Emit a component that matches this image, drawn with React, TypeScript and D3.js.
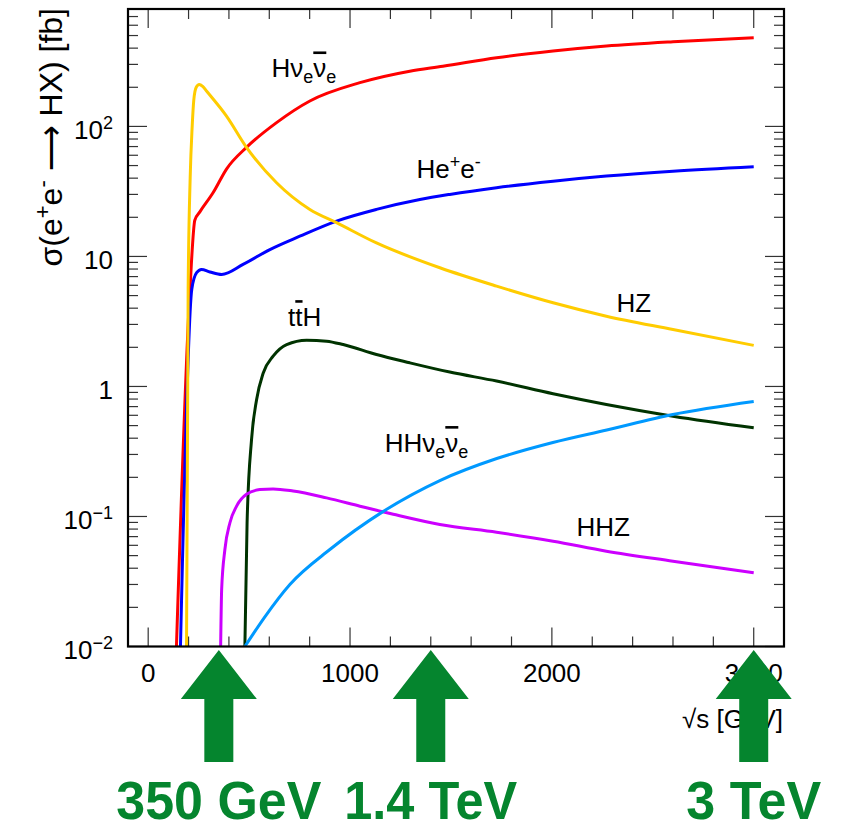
import React from 'react';
import * as d3 from 'd3';

// Higgs production cross-sections at an e+e- collider, [√s (GeV), σ (fb)]
const hNuNu: [number, number][] = [[140, 0.01], [207, 5.6], [231, 19], [256, 22], [322, 31], [388, 47], [487, 69], [636, 107], [801, 157], [1049, 217], [1296, 266], [1460, 290], [1726, 338], [2006, 380], [2270, 415], [2600, 448], [3000, 481]];
const hEE: [number, number][] = [[160, 0.01], [216, 5.6], [240, 7.5], [264, 7.94], [306, 7.6], [364, 7.27], [470, 8.68], [603, 11.3], [751, 14.3], [933, 18.7], [1131, 23.0], [1346, 27.4], [1494, 30.0], [1726, 33.8], [2006, 37.9], [2270, 41.5], [2600, 45.3], [3000, 49.0]];
const hZ: [number, number][] = [[190, 0.01], [198, 5.6], [208, 40], [218, 100], [226, 160], [238, 200], [253, 210], [270, 203], [289, 187], [388, 120], [487, 69], [636, 36.9], [801, 23.0], [933, 18.2], [1131, 12.7], [1445, 8.18], [1726, 5.91], [2006, 4.40], [2270, 3.47], [2600, 2.74], [3000, 2.07]];
const ttH: [number, number][] = [[479, 0.01], [490, 0.09], [512, 0.39], [537, 0.79], [570, 1.27], [619, 1.71], [686, 2.10], [785, 2.27], [884, 2.23], [966, 2.10], [1131, 1.76], [1296, 1.52], [1494, 1.29], [1726, 1.10], [2006, 0.879], [2270, 0.727], [2600, 0.591], [3000, 0.481]];
const hhZ: [number, number][] = [[359, 0.01], [364, 0.0275], [380, 0.0557], [405, 0.0895], [438, 0.12], [487, 0.148], [553, 0.161], [619, 0.163], [718, 0.157], [884, 0.139], [1049, 0.12], [1214, 0.104], [1445, 0.0868], [1726, 0.0757], [2006, 0.0646], [2270, 0.0541], [2600, 0.0453], [3000, 0.0369]];
const hhNuNu: [number, number][] = [[479, 0.01], [579, 0.017], [702, 0.030], [900, 0.0557], [1163, 0.109], [1445, 0.189], [1727, 0.279], [2005, 0.371], [2272, 0.463], [2599, 0.609], [3000, 0.767]];

const seriesData = [hNuNu, hEE, hZ, ttH, hhZ, hhNuNu];
const seriesColors = ['#ff0000', '#0000ff', '#ffcc00', '#003300', '#cc00ff', '#0099ff'];

// Curve label anchor points [√s, σ]
const labelAnchors: [number, number][] = [[611, 238], [1329, 40.2], [2320, 3.76], [693, 2.91], [2122, 0.0705], [1172, 0.313]];

// Collider energy stages (GeV) and their captions
const stageEnergies = [350, 1400, 3000];
const stageLabels = ['350 GeV', '1.4 TeV', '3 TeV'];
const stageLabelWidths = [205, 173, 135];

const xMajorTicks = [0, 1000, 2000, 3000];
const xMajorLabels = ['0', '1000', '2000', '3000'];
const yDecades = [0.01, 0.1, 1, 10, 100];

const W = 853;
const H = 833;
const M = { left: 128, right: 784, top: 9, bottom: 646.5 };
const FONT = "'Liberation Sans', Arial, Helvetica, sans-serif";
const GREEN = '#05852e';

export default function App() {
  const x = d3.scaleLinear().domain([-100, 3150]).range([M.left, M.right]);
  const y = d3.scaleLog().domain([0.01, 800]).range([M.bottom, M.top]);

  const line = d3
    .line<[number, number]>()
    .x((d) => x(d[0]))
    .y((d) => y(d[1]))
    .curve(d3.curveMonotoneX);

  const xMinor = d3.range(0, 3001, 200).filter((v) => v % 1000 !== 0);
  const yMinor: number[] = [];
  for (const dec of yDecades) {
    for (let k = 2; k <= 9; k++) {
      const v = dec * k;
      if (v <= 800) yMinor.push(v);
    }
  }

  const tickColor = '#333';
  const majorLen = 19;
  const minorLen = 10;

  const yLabel = (v: number) => {
    if (v === 1) return <tspan>1</tspan>;
    if (v === 10) return <tspan>10</tspan>;
    const e = Math.round(Math.log10(v));
    const sup = e < 0 ? `\u2212${-e}` : `${e}`;
    return (
      <>
        <tspan>10</tspan>
        <tspan dy={-10} fontSize={18}>{sup}</tspan>
      </>
    );
  };

  const sub = (t: string) => (
    <tspan dy={6} fontSize={18}>{t}</tspan>
  );

  const curveLabels = [
    <>
      H<tspan>ν</tspan>
      {sub('e')}
      <tspan dy={-6} style={{ textDecoration: 'overline' }}>ν</tspan>
      {sub('e')}
    </>,
    <>
      He<tspan dy={-10} fontSize={18}>+</tspan>
      <tspan dy={10}>e</tspan>
      <tspan dy={-10} fontSize={18}>-</tspan>
    </>,
    <>HZ</>,
    <>
      t<tspan style={{ textDecoration: 'overline' }}>t</tspan>H
    </>,
    <>HHZ</>,
    <>
      HH<tspan>ν</tspan>
      {sub('e')}
      <tspan dy={-6} style={{ textDecoration: 'overline' }}>ν</tspan>
      {sub('e')}
    </>,
  ];

  const arrowPath = (cx: number) => {
    const tip = M.bottom + 3.5;
    const headH = 49;
    const headW = 76;
    const shaftW = 29;
    const bottom = 762;
    const p = d3.path();
    p.moveTo(cx, tip);
    p.lineTo(cx + headW / 2, tip + headH);
    p.lineTo(cx + shaftW / 2, tip + headH);
    p.lineTo(cx + shaftW / 2, bottom);
    p.lineTo(cx - shaftW / 2, bottom);
    p.lineTo(cx - shaftW / 2, tip + headH);
    p.lineTo(cx - headW / 2, tip + headH);
    p.closePath();
    return p.toString();
  };

  return (
    <svg
      width={W}
      height={H}
      style={{ position: 'absolute', left: 0, top: 0, background: '#fff' }}
      fontFamily={FONT}
    >
      <defs>
        <clipPath id="plot-area">
          <rect x={M.left} y={M.top} width={M.right - M.left} height={M.bottom - M.top} />
        </clipPath>
      </defs>

      {/* ticks on all four sides */}
      <g stroke={tickColor} strokeWidth={1.2}>
        {xMajorTicks.map((v) => (
          <g key={'xm' + v}>
            <line x1={x(v)} x2={x(v)} y1={M.bottom} y2={M.bottom - majorLen} />
            <line x1={x(v)} x2={x(v)} y1={M.top} y2={M.top + majorLen} />
          </g>
        ))}
        {xMinor.map((v) => (
          <g key={'xn' + v}>
            <line x1={x(v)} x2={x(v)} y1={M.bottom} y2={M.bottom - minorLen} />
            <line x1={x(v)} x2={x(v)} y1={M.top} y2={M.top + minorLen} />
          </g>
        ))}
        {yDecades.map((v) => (
          <g key={'ym' + v}>
            <line x1={M.left} x2={M.left + majorLen} y1={y(v)} y2={y(v)} />
            <line x1={M.right} x2={M.right - majorLen} y1={y(v)} y2={y(v)} />
          </g>
        ))}
        {yMinor.map((v) => (
          <g key={'yn' + v}>
            <line x1={M.left} x2={M.left + minorLen} y1={y(v)} y2={y(v)} />
            <line x1={M.right} x2={M.right - minorLen} y1={y(v)} y2={y(v)} />
          </g>
        ))}
      </g>

      {/* cross-section curves */}
      <g clipPath="url(#plot-area)" fill="none" strokeWidth={3} strokeLinejoin="round">
        {seriesData.map((d, i) => (
          <path key={i} d={line(d) ?? ''} stroke={seriesColors[i]} />
        ))}
      </g>

      {/* frame */}
      <rect
        x={M.left}
        y={M.top}
        width={M.right - M.left}
        height={M.bottom - M.top}
        fill="none"
        stroke="#000"
        strokeWidth={2.2}
      />

      {/* curve labels */}
      <g fontSize={26} fill="#000">
        {labelAnchors.map((a, i) => (
          <text key={i} x={x(a[0])} y={y(a[1])}>
            {curveLabels[i]}
          </text>
        ))}
      </g>

      {/* x tick labels */}
      <g fontSize={26} textAnchor="middle" fill="#000">
        {xMajorTicks.map((v, i) => (
          <text key={v} x={x(v)} y={682}>
            {xMajorLabels[i]}
          </text>
        ))}
      </g>

      {/* y tick labels */}
      <g fontSize={26} textAnchor="end" fill="#000">
        {yDecades.map((v) => (
          <text key={v} x={113} y={y(v) + 12.5}>
            {yLabel(v)}
          </text>
        ))}
      </g>

      {/* axis titles */}
      <text x={783} y={728} fontSize={26} textAnchor="end">
        √s [GeV]
      </text>
      <text
        transform="translate(62,8) rotate(-90)"
        fontSize={32}
        textAnchor="end"
      >
        σ(e<tspan dy={-12} fontSize={22}>+</tspan>
        <tspan dy={12}>e</tspan>
        <tspan dy={-12} fontSize={22}>-</tspan>
        <tspan dy={12}> {'\u27F6'} HX) [fb]</tspan>
      </text>

      {/* collider stages */}
      <g fill={GREEN}>
        {stageEnergies.map((e, i) => (
          <g key={e}>
            <path d={arrowPath(x(e))} />
            <text
              x={x(e)}
              y={819}
              textAnchor="middle"
              fontSize={53}
              fontWeight="bold"
              fontFamily="'Liberation Sans Narrow', 'Liberation Sans', Arial, sans-serif"
              textLength={stageLabelWidths[i]}
              lengthAdjust="spacingAndGlyphs"
            >
              {stageLabels[i]}
            </text>
          </g>
        ))}
      </g>
    </svg>
  );
}
